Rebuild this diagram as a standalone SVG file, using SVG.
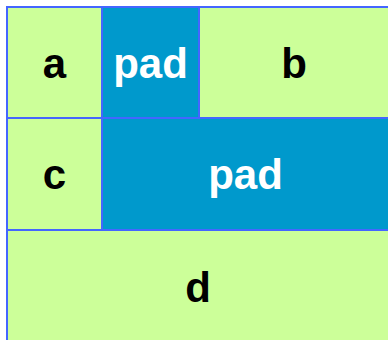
<svg xmlns="http://www.w3.org/2000/svg" width="388" height="340" viewBox="0 0 388 340">
<style>
.cell{fill:#ccff99}
.pad{fill:#0099cc}
.t{font-family:"Liberation Sans",Arial,sans-serif;font-weight:bold;font-size:42px;text-anchor:middle;fill:#000}
.tw{fill:#fff}
</style>
<rect x="0" y="0" width="388" height="340" fill="#fff"/>
<rect id="grid" x="6" y="6" width="382" height="334" fill="#4466ff"/>
<g id="a"><rect class="cell" x="8" y="8" width="93" height="109"/><text class="t" x="54.5" y="78">a</text></g>
<g id="pad1"><rect class="pad" x="103" y="8" width="95" height="109"/><text class="t tw" x="150.5" y="78">pad</text></g>
<g id="b"><rect class="cell" x="200" y="8" width="188" height="109"/><text class="t" x="294" y="78">b</text></g>
<g id="c"><rect class="cell" x="8" y="119" width="93" height="110"/><text class="t" x="54.5" y="189">c</text></g>
<g id="pad2"><rect class="pad" x="103" y="119" width="285" height="110"/><text class="t tw" x="245.5" y="189">pad</text></g>
<g id="d"><rect class="cell" x="8" y="231" width="380" height="109"/><text class="t" x="198" y="302">d</text></g>
</svg>
